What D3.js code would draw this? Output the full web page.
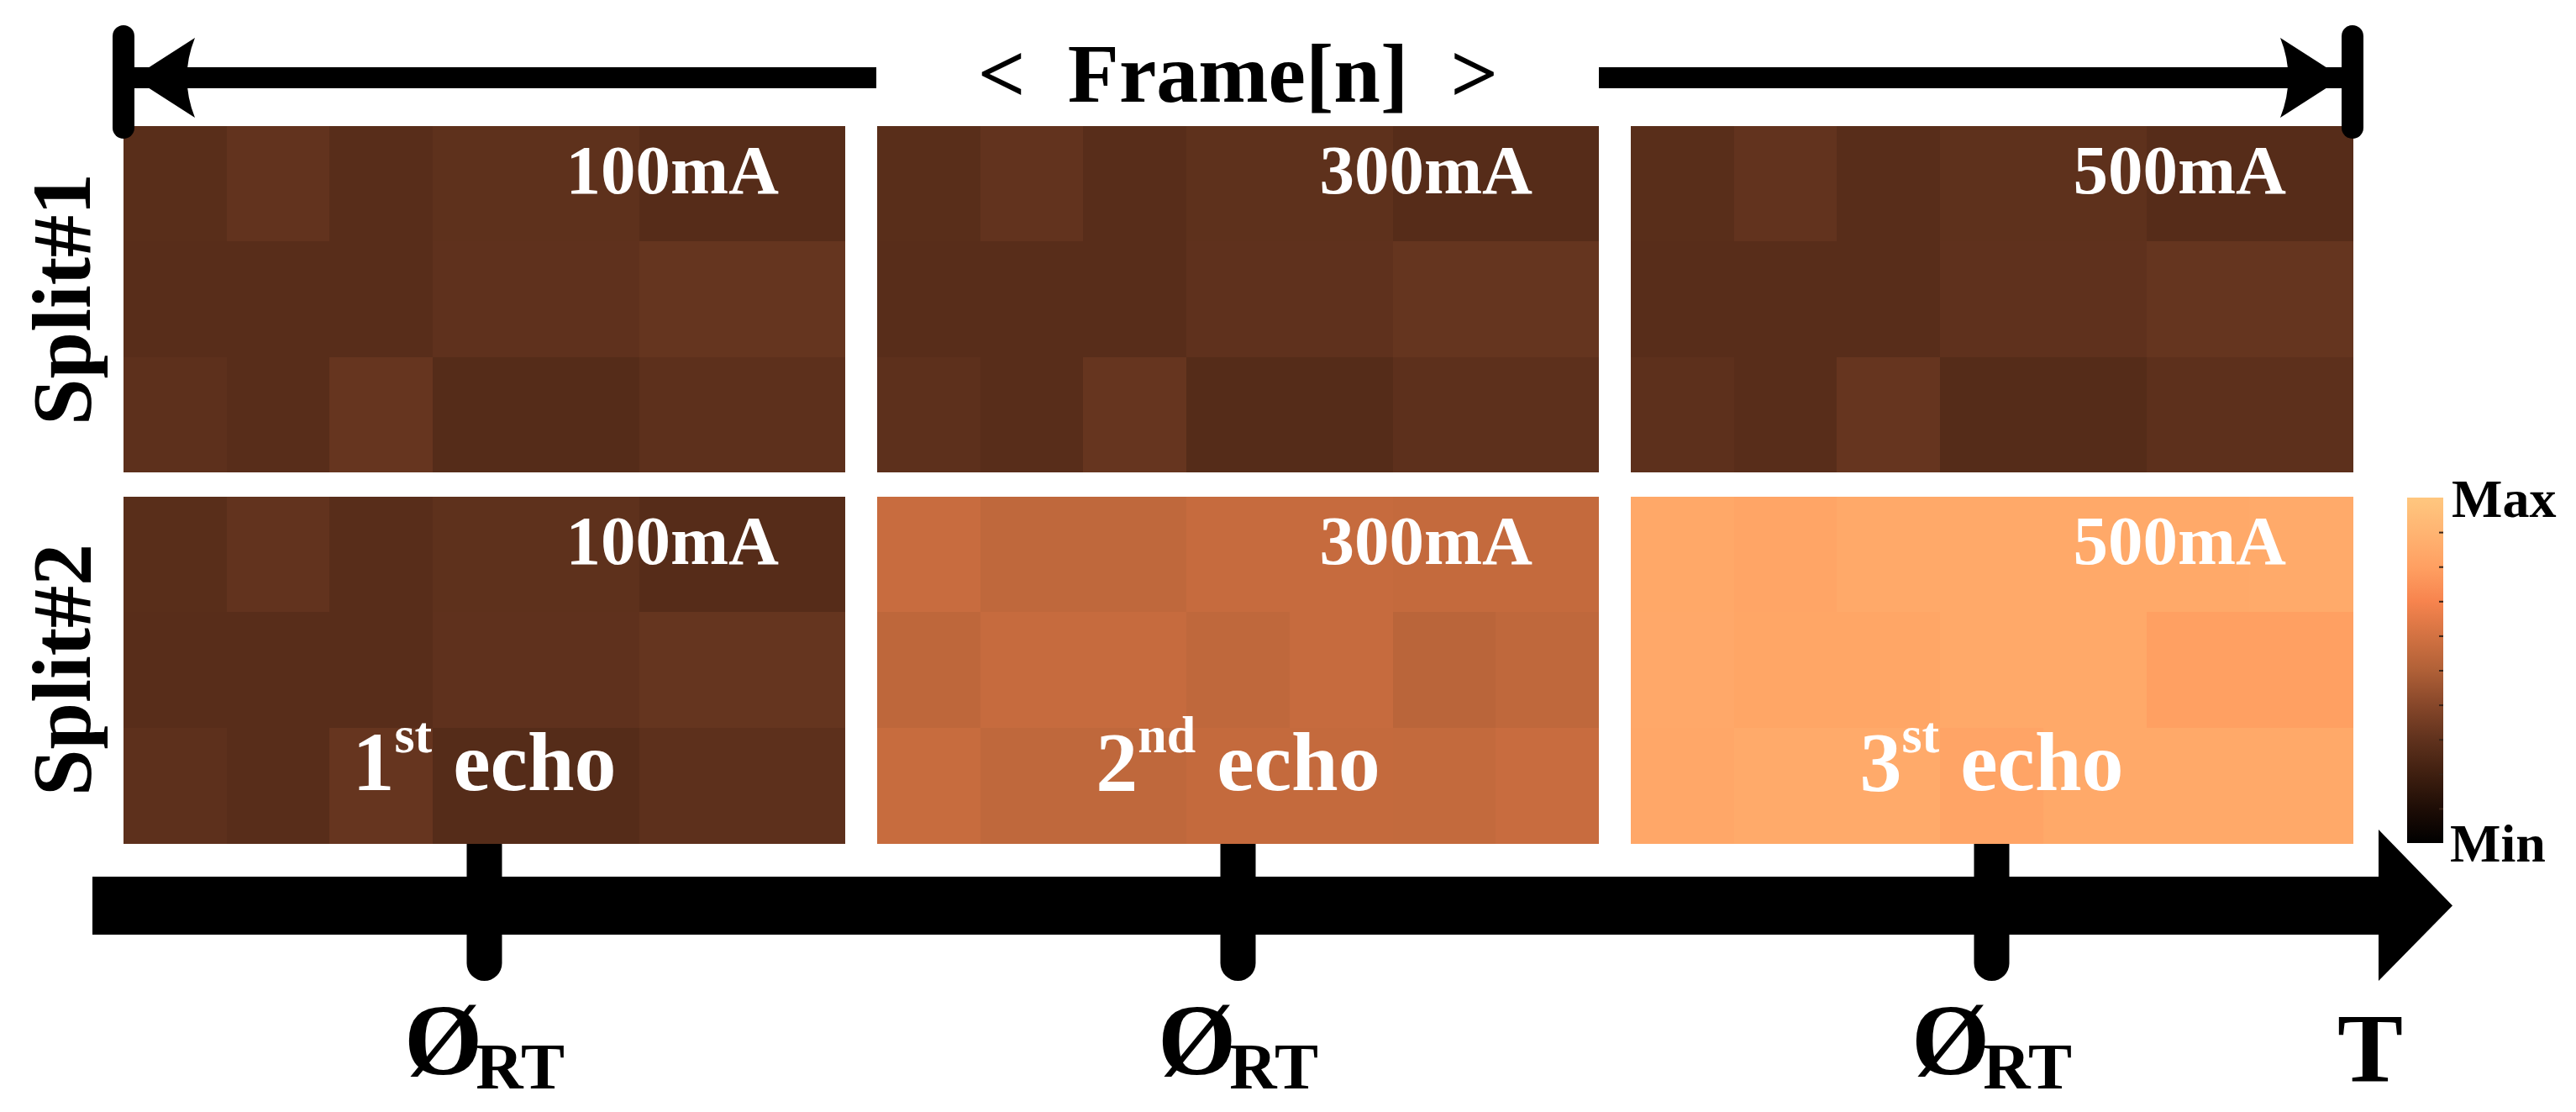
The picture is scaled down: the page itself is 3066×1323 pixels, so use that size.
<!DOCTYPE html>
<html>
<head>
<meta charset="utf-8">
<script src="https://cdn.jsdelivr.net/npm/d3@7"></script>
<style>
  html, body { margin: 0; padding: 0; background: #fff; }
  svg { display: block; }
  text { font-family: 'Liberation Serif', 'Times New Roman', serif; font-weight: bold; white-space: pre; }
</style>
</head>
<body>
<svg id="chart" width="3066" height="1323"></svg>
<script>
// frames along time, the two splits, and the labels
var frames = ['100mA', '300mA', '500mA'];
var splits = ['Split#1', 'Split#2'];
var echoNums = ['1', '2', '3'];
var echoSups = ['st', 'nd', 'st'];
var cbLabels = ['Max', 'Min'];

// cell intensities (0 = Min, 1 = Max), 3 rows x 7 columns per panel
var split1_100 = [
    [0.280, 0.305, 0.275, 0.295, 0.295, 0.270, 0.270],
    [0.275, 0.275, 0.275, 0.297, 0.297, 0.312, 0.312],
    [0.292, 0.275, 0.315, 0.268, 0.268, 0.290, 0.290]
];
var split1_300 = [
    [0.280, 0.305, 0.275, 0.295, 0.295, 0.270, 0.270],
    [0.275, 0.275, 0.275, 0.297, 0.297, 0.312, 0.312],
    [0.292, 0.275, 0.315, 0.268, 0.268, 0.290, 0.290]
];
var split1_500 = [
    [0.280, 0.305, 0.275, 0.295, 0.295, 0.270, 0.270],
    [0.275, 0.275, 0.275, 0.297, 0.297, 0.312, 0.312],
    [0.292, 0.275, 0.315, 0.268, 0.268, 0.290, 0.290]
];
var split2_100 = [
    [0.280, 0.305, 0.275, 0.295, 0.295, 0.270, 0.270],
    [0.275, 0.275, 0.275, 0.297, 0.297, 0.312, 0.312],
    [0.292, 0.275, 0.315, 0.268, 0.268, 0.290, 0.290]
];
var split2_300 = [
    [0.569, 0.543, 0.543, 0.562, 0.562, 0.556, 0.556],
    [0.540, 0.562, 0.562, 0.543, 0.562, 0.529, 0.543],
    [0.565, 0.543, 0.543, 0.556, 0.556, 0.554, 0.569]
];
var split2_500 = [
    [0.840, 0.825, 0.845, 0.845, 0.845, 0.845, 0.850],
    [0.842, 0.828, 0.828, 0.845, 0.845, 0.800, 0.800],
    [0.835, 0.850, 0.850, 0.822, 0.845, 0.845, 0.845]
];

var panels = [
    { split: 'Split#1', frame: '100mA', values: split1_100 },
    { split: 'Split#1', frame: '300mA', values: split1_300 },
    { split: 'Split#1', frame: '500mA', values: split1_500 },
    { split: 'Split#2', frame: '100mA', values: split2_100 },
    { split: 'Split#2', frame: '300mA', values: split2_300 },
    { split: 'Split#2', frame: '500mA', values: split2_500 }
];

// copper-like colormap
var cmapStops = [0, 0.1, 0.2, 0.3, 0.4, 0.5, 0.6, 0.7, 0.8, 0.9, 1];
var cmapColors = ['#000000', '#1e0d06', '#3f1f10', '#60321d', '#87472a', '#b06037',
                  '#d37242', '#f7844e', '#ffa062', '#ffb472', '#ffc77f'];

var svg = d3.select('#chart');

var color = d3.scaleLinear().domain(cmapStops).range(cmapColors).interpolate(d3.interpolateRgb);

var xFrame = d3.scaleBand().domain(frames).range([147, 2800]).paddingInner(0.0424);
var ySplit = d3.scaleBand().domain(splits).range([150, 1003]).paddingInner(0.0658);
var bw = xFrame.bandwidth(), bh = ySplit.bandwidth();
var xCell = d3.scaleBand().domain(d3.range(7)).range([0, bw]);
var yCell = d3.scaleBand().domain(d3.range(3)).range([0, bh]);

// time axis (bottom thick arrow)
var axisY = 1077.5;
var tickX = function(f) { return xFrame(f) + bw / 2; };

svg.append('g').selectAll('line')
    .data(frames)
    .enter()
    .append('line')
    .attr('x1', tickX).attr('x2', tickX)
    .attr('y1', ySplit('Split#2') + bh - 30)
    .attr('y2', 1146)
    .attr('stroke', '#000')
    .attr('stroke-width', 42)
    .attr('stroke-linecap', 'round');

svg.append('rect')
    .attr('x', 110).attr('y', axisY - 34.5)
    .attr('width', 2831 - 110).attr('height', 69)
    .attr('fill', '#000');

svg.append('path')
    .attr('d', 'M2831,987 L2919,' + axisY + ' L2831,1167 Z')
    .attr('fill', '#000');

// heatmap panels
var pg = svg.selectAll('g.panel')
    .data(panels)
    .enter()
    .append('g')
    .attr('class', 'panel')
    .attr('transform', function(d) { return 'translate(' + xFrame(d.frame) + ',' + ySplit(d.split) + ')'; });

pg.selectAll('rect')
    .data(function(d) {
        var cells = [];
        d.values.forEach(function(row, r) {
            row.forEach(function(v, c) { cells.push({ r: r, c: c, v: v }); });
        });
        return cells;
    })
    .enter()
    .append('rect')
    .attr('x', function(d) { return xCell(d.c); })
    .attr('y', function(d) { return yCell(d.r); })
    .attr('width', xCell.bandwidth() + 0.5)
    .attr('height', yCell.bandwidth() + 0.5)
    .attr('fill', function(d) { return color(d.v); })
    .attr('shape-rendering', 'crispEdges');

pg.append('text')
    .attr('x', bw - 79)
    .attr('y', 80)
    .attr('text-anchor', 'end')
    .attr('fill', '#fff')
    .style('font-size', '83px')
    .text(function(d) { return d.frame; });

// echo labels on the lower row
frames.forEach(function(f, i) {
    var t = svg.append('text')
        .attr('x', tickX(f))
        .attr('y', ySplit('Split#2') + bh - 63)
        .attr('text-anchor', 'middle')
        .attr('fill', '#fff')
        .style('font-size', '100px');
    t.append('tspan').text(echoNums[i]);
    t.append('tspan').attr('dy', -45).style('font-size', '62px').text(echoSups[i]);
    t.append('tspan').attr('dy', 45).text(' echo');
});

// split labels
svg.selectAll('text.split')
    .data(splits)
    .enter()
    .append('text')
    .attr('class', 'split')
    .attr('transform', function(d) { return 'translate(107,' + (ySplit(d) + bh / 2) + ') rotate(-90)'; })
    .attr('text-anchor', 'middle')
    .attr('fill', '#000')
    .style('font-size', '100px')
    .text(function(d) { return d; });

// phase labels under the ticks
frames.forEach(function(f) {
    var t = svg.append('text')
        .attr('x', tickX(f))
        .attr('y', 1278)
        .attr('text-anchor', 'middle')
        .attr('fill', '#000');
    t.append('tspan').style('font-size', '120px').text('Ø');
    t.append('tspan').attr('dx', -8).attr('dy', 17).style('font-size', '78px').text('RT');
});

svg.append('text')
    .attr('x', 2821).attr('y', 1286)
    .attr('text-anchor', 'middle')
    .style('font-size', '117px')
    .text('T');

// frame span arrow on top
var left = xFrame(frames[0]);
var right = xFrame(frames[2]) + bw;
var midL = xFrame(frames[1]), midR = xFrame(frames[1]) + bw;
var topY = 92.5;
var topG = svg.append('g');

topG.append('line')
    .attr('x1', left).attr('x2', midL - 1)
    .attr('y1', topY).attr('y2', topY)
    .attr('stroke', '#000').attr('stroke-width', 25);
topG.append('line')
    .attr('x1', midR).attr('x2', right)
    .attr('y1', topY).attr('y2', topY)
    .attr('stroke', '#000').attr('stroke-width', 25);

[left, right].forEach(function(x) {
    topG.append('line')
        .attr('x1', x).attr('x2', x)
        .attr('y1', 43).attr('y2', 152)
        .attr('stroke', '#000').attr('stroke-width', 26)
        .attr('stroke-linecap', 'round');
});

topG.append('path')
    .attr('d', 'M' + (left + 11) + ',' + topY + ' L' + (left + 85) + ',45 Q' + (left + 66) + ',' + topY +
               ' ' + (left + 85) + ',140 Z')
    .attr('fill', '#000');
topG.append('path')
    .attr('d', 'M' + (right - 12) + ',' + topY + ' L' + (right - 86) + ',45 Q' + (right - 67) + ',' + topY +
               ' ' + (right - 86) + ',140 Z')
    .attr('fill', '#000');

topG.append('text')
    .attr('x', midL + bw / 2)
    .attr('y', 121)
    .attr('text-anchor', 'middle')
    .style('font-size', '100px')
    .text('<  Frame[n]  >');

// colorbar
var cbX = 2865, cbW = 43;
var cbY = d3.scaleLinear().domain([0, 1]).range([1003, 592]);

var grad = svg.append('defs').append('linearGradient')
    .attr('id', 'cbGrad')
    .attr('x1', 0).attr('y1', 1).attr('x2', 0).attr('y2', 0);
grad.selectAll('stop')
    .data(cmapStops)
    .enter()
    .append('stop')
    .attr('offset', function(d) { return d; })
    .attr('stop-color', function(d) { return color(d); });

svg.append('rect')
    .attr('x', cbX).attr('y', cbY(1))
    .attr('width', cbW).attr('height', cbY(0) - cbY(1))
    .attr('fill', 'url(#cbGrad)');

var cbAxis = svg.append('g')
    .attr('transform', 'translate(' + (cbX + cbW) + ',0)')
    .call(d3.axisLeft(cbY).tickValues(d3.range(1, 10).map(function(d) { return d / 10; })).tickSize(5).tickFormat(''));
cbAxis.select('.domain').remove();
cbAxis.selectAll('.tick line').attr('stroke', '#3a2418').attr('stroke-width', 2);

svg.append('text')
    .attr('x', 2918).attr('y', 615)
    .style('font-size', '64px')
    .text(cbLabels[0]);
svg.append('text')
    .attr('x', 2916).attr('y', 1025)
    .style('font-size', '64px')
    .text(cbLabels[1]);
</script>
</body>
</html>
